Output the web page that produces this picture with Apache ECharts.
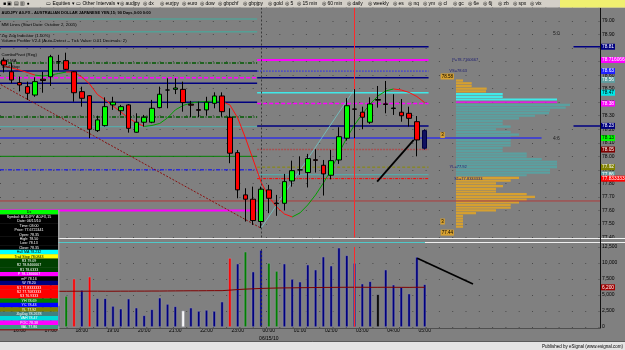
<!DOCTYPE html>
<html><head><meta charset="utf-8">
<script src="https://cdn.jsdelivr.net/npm/echarts@6/dist/echarts.min.js"></script>
<style>html,body{margin:0;padding:0;background:#808080;overflow:hidden}#c{width:625px;height:350px}</style>
</head><body><div id="c"></div><script>
// ---------------- DATA ----------------
const times = ['15:30','15:45','16:00','16:15','16:30','16:45','17:00','17:15','17:30','17:45','18:00','18:15','18:30','18:45','19:00','19:15','19:30','19:45','20:00','20:15','20:30','20:45','21:00','21:15','21:30','21:45','22:00','22:15','22:30','22:45','23:00','23:15','23:30','23:45','00:00','00:15','00:30','00:45','01:00','01:15','01:30','01:45','02:00','02:15','02:30','02:45','03:00','03:15','03:30','03:45','04:00','04:15','04:30','04:45','05:00'];
const futureSlots = ['+1','+2','+3','+4','+5','+6','+7','+8','+9','+10','+11','+12','+13','+14','+15','+16','+17','+18','+19','+20','+21','+22'];
const opens  = [78.71,78.625,78.545,78.515,78.453,78.57,78.588,78.70,78.707,78.625,78.478,78.448,78.19,78.227,78.38,78.337,78.38,78.178,78.252,78.252,78.36,78.49,78.495,78.495,78.385,78.345,78.343,78.392,78.446,78.289,78.027,77.715,77.683,77.518,77.752,77.655,77.653,77.818,77.90,77.88,77.975,77.934,77.86,77.973,78.134,78.35,78.326,78.252,78.42,78.388,78.353,78.326,78.318,78.256,78.19];
const closes = [78.675,78.564,78.527,78.466,78.552,78.56,78.736,78.70,78.643,78.47,78.429,78.20,78.269,78.367,78.40,78.367,78.207,78.252,78.289,78.355,78.459,78.49,78.505,78.397,78.378,78.34,78.40,78.446,78.33,78.023,77.752,77.683,77.525,77.757,77.69,77.65,77.813,77.894,77.90,77.983,77.97,77.87,77.968,78.145,78.374,78.348,78.289,78.387,78.415,78.383,78.357,78.30,78.281,78.121,78.06];
const lows   = [78.62,78.54,78.48,78.417,78.44,78.47,78.52,78.633,78.638,78.404,78.367,78.134,78.18,78.22,78.343,78.306,78.175,78.175,78.22,78.245,78.355,78.355,78.46,78.33,78.29,78.29,78.30,78.355,78.293,77.949,77.69,77.518,77.493,77.469,77.58,77.56,77.60,77.776,77.863,77.77,77.88,77.71,77.83,77.944,78.116,78.134,78.20,78.24,78.36,78.318,78.306,78.256,78.22,78.0,78.05];
const highs  = [78.73,78.69,78.59,78.552,78.584,78.625,78.75,78.75,78.766,78.63,78.515,78.453,78.30,78.436,78.44,78.38,78.385,78.318,78.306,78.417,78.515,78.577,78.577,78.552,78.41,78.404,78.44,78.473,78.473,78.355,78.047,77.764,77.776,77.776,77.789,77.715,77.87,77.968,78.0,78.018,78.052,77.973,78.047,78.215,78.43,78.496,78.367,78.436,78.52,78.557,78.459,78.424,78.367,78.298,78.20];
const hullMA = [78.668,78.653,78.638,78.62,78.60,78.594,78.601,78.612,78.623,78.623,78.586,78.535,78.457,78.417,78.372,78.328,78.284,78.247,78.221,78.228,78.243,78.284,78.343,78.376,78.394,78.402,78.405,78.409,78.405,78.38,78.284,78.136,77.973,77.81,77.70,77.626,77.574,77.552,77.582,77.641,77.715,77.803,77.90,78.025,78.136,78.232,78.313,78.387,78.446,78.483,78.498,78.49,78.472,78.442,78.397];
const hullSegDir = 'rrrrggggrrrrrrrrrrggggggggggrrrrrrrrrgggggggggggggrrrr';
const volumes = [4200,3600,5100,2900,3800,4600,6900,3400,4840,7550,5780,7860,4480,4480,3280,2860,4430,3020,1820,2760,4580,3590,3230,2550,3020,2500,2660,2500,3960,10780,9900,11770,8650,12030,10000,8750,9900,7500,7080,9740,8960,10990,9580,12390,11200,10000,6770,7140,5110,8960,6610,6250,5210,10940,6670];
const volumeKind = 'nnnnnnnngrnrnnnnnnnnnnnwnnnnnrngnnggnnnnnnnnnnnnknnnnnn';
const volumeMA = [5540,5550,5560,5560,5570,5570,5580,5580,5580,5590,5590,5600,5600,5590,5590,5600,5600,5610,5610,5620,5620,5630,5640,5650,5660,5660,5670,5680,5680,5760,5850,5920,5970,6030,6060,6090,6110,6120,6140,6150,6170,6180,6190,6200,6210,6210,6210,6200,6200,6210,6200,6200,6190,6210,6200];
// volume profile (price ladder, volume at price, zone)
const profilePrice = [78.56,78.54,78.52,78.50,78.48,78.46,78.44,78.42,78.40,78.38,78.36,78.34,78.32,78.30,78.28,78.26,78.24,78.22,78.20,78.18,78.16,78.14,78.12,78.10,78.08,78.06,78.04,78.02,78.00,77.98,77.96,77.94,77.92,77.90,77.88,77.86,77.84,77.82,77.80,77.78,77.76,77.74,77.72,77.70,77.68,77.66,77.64,77.62,77.60,77.58,77.56,77.54,77.52,77.50,77.48];
const profileVol = [70,157,157,307,300,467,467,1010,1010,1140,1097,940,930,790,630,467,467,547,400,547,630,547,547,547,547,467,467,707,707,857,1010,1010,1010,940,940,707,630,547,400,470,400,400,707,790,707,630,547,547,400,200,70,70,70,70,70];
const profileZone = 'ooooocccPtttttttttttttttttttttttttttooooooooooooooooooo';
// pivot / level lines
const day1Start = -0.5, day1End = 32.5, day2End = 54.5;
const day1Levels = [79.015,78.92,78.69,78.63,78.58,78.54,78.40,78.29,78.22,78.00,77.90,77.60];
const day1Kinds  = ['tealThin','tealThin','dgreenDD','navy','magDash','navy','navy','dgreenDD','teal','green','blueDD','magenta'];
const day2Levels = [78.712,78.63,78.58,78.47,78.39,78.225,78.05,77.92,77.865,77.835];
const day2Kinds  = ['magenta','blueDot','navy','cyan','magDash','navy','brownDot','oliveDash','teal','redDD'];
const wideLevels = [78.81,78.135,77.67];
const wideEnds   = [54.5,69,76.5];
const wideKinds  = ['navy','purple','brown'];
const stubLevels = [78.81,78.225];
// zig zag and drawn trend lines
const zigzag1 = [[-0.4,78.53],[33,77.469]];
const zigzag2 = [[33,77.469],[45,78.496]];
const trendPrice = [[47.9,77.813],[52.6,78.121]];
const trendVolume = [[53.05,10734],[60.2,6719]];
// right axis tags
const tagPrices = [78.81,78.712,78.63,78.565,78.47,78.39,78.225,78.135,78.05,77.92,77.865,77.835];
const tagTexts  = ['78.81','78.7160667','78.63','78.56','78.47','78.38','78.23','78.13','78.05','77.92','77.86','77.8333333'];
const tagColors = ['#000080','#ff00ff','#2020ff','#5f9ea0','#00e8e8','#ff00ff','#000080','#00ff00','#800000','#808000','#5f9ea0','#ff0000'];
const sessionBreak = '23:45', cursorBar = '02:45';
const dataWindow = [
 ['Dx','#00ff00','#000'],['Symbol: AUDJPY A0-FX,15','#000','#fff'],['Date: 06/15/10','#000','#fff'],['Time: 03:00','#000','#fff'],
 ['Price: 77.6722441','#000','#fff'],['Open: 78.35','#000','#fff'],['High: 78.50','#000','#fff'],['Low: 78.13','#000','#fff'],['Close: 78.35','#000','#fff'],
 ['Hull MA 78.232','#00ffff','#000'],['Trail Stop 78.0843','#ffff00','#000'],
 ['R3 79.09','#004000','#fff'],['R2 78.8466667','#004000','#fff'],['R1 78.6333','#004000','#fff'],
 ['P 78.1366667','#ff00ff','#fff'],['mP 78.16','#000','#fff'],['W 78.20','#000080','#fff'],
 ['S1 77.8333333','#ff0000','#fff'],['S2 77.7083333','#ff0000','#fff'],['S3 76.9333','#ff0000','#fff'],
 ['YH 78.69','#008000','#fff'],['YC 78.43','#0000ff','#fff'],['YL 77.92','#808000','#fff'],
 ['ZigZag 78.2678','#408080','#fff'],['VAH 78.47','#00d8d8','#fff'],['POC 78.38','#ff00ff','#fff'],['VAL 77.86','#3c9c80','#fff']
];

// ---------------- STYLES ----------------
const FONT = '"Liberation Sans", Arial, sans-serif';
const lineKinds = {
  tealThin:{color:'#3fb0a0',width:1,type:'solid'},
  teal:{color:'#5aa8a8',width:1.2,type:'solid'},
  navy:{color:'#000080',width:1.5,type:'solid'},
  magDash:{color:'#ff00ff',width:1.5,type:[4,2]},
  magenta:{color:'#ff00ff',width:2,type:'solid'},
  dgreenDD:{color:'#005a00',width:1.5,type:[4,1.5,1,1.5]},
  green:{color:'#008000',width:1,type:'solid'},
  blueDD:{color:'#0000ff',width:1,type:[4,1.5,1,1.5]},
  blueDot:{color:'#2020ff',width:1,type:[1.5,1.5]},
  brown:{color:'#b03a3a',width:1,type:'solid'},
  brownDot:{color:'#a85050',width:1.5,type:[2,1]},
  oliveDash:{color:'#8a8a00',width:1,type:[3,2]},
  redDD:{color:'#ff0000',width:1,type:[3,1,1,1]},
  cyan:{color:'#40e8e8',width:1.5,type:'solid'},
  purple:{color:'#4646c8',width:2,type:'solid'}
};
const volColors = {n:'#000080',r:'#ff0000',g:'#008000',w:'#ffffff',k:'#000000'};
const zoneColors = {o:'#d6a030',c:'#40e8e8',P:'#ff00ff',t:'#5aa0a0'};

// ---------------- BUILD ----------------
const cats = times.concat(futureSlots);
const candleData = times.map((t,i)=>{
  const v=[opens[i],closes[i],lows[i],highs[i]];
  if(i===times.length-1) return {value:v,itemStyle:{color:'#101060',color0:'#101060',borderColor:'#000040',borderColor0:'#000040'}};
  return v;
});
const hullUp = hullMA.map((v,i)=> (hullSegDir[i]==='g'||hullSegDir[i-1]==='g')?v:null);
const hullDn = hullMA.map((v,i)=> (hullSegDir[i]==='r'||hullSegDir[i-1]==='r')?v:null);

function seg(pts, style, xi, yi, z){
  return {type:'line',xAxisIndex:xi,yAxisIndex:yi,data:pts,showSymbol:false,silent:true,z:z||2,
    lineStyle:Object.assign({},style),animation:false};
}
const levelSeries = [];
day1Levels.forEach((p,k)=>levelSeries.push(seg([[day1Start,p],[day1End,p]],lineKinds[day1Kinds[k]],2,0)));
day2Levels.forEach((p,k)=>levelSeries.push(seg([[day1End,p],[day2End,p]],lineKinds[day2Kinds[k]],2,0)));
wideLevels.forEach((p,k)=>levelSeries.push(seg([[day1Start,p],[wideEnds[k],p]],lineKinds[wideKinds[k]],2,0,3)));
stubLevels.forEach(p=>levelSeries.push(seg([[73.1,p],[76.5,p]],lineKinds.navy,2,0)));
levelSeries.push(seg(zigzag1,{color:'#8a1010',width:1,type:[2,1.5]},2,0,3));
levelSeries.push(seg(zigzag2,{color:'#70c8c8',width:0.8,type:'solid'},2,0,3));
levelSeries.push(seg(trendPrice,{color:'#000',width:1.8,type:'solid'},2,0,5));
levelSeries.push(seg(trendVolume,{color:'#000',width:1.8,type:'solid'},3,1,5));

function txt(x,p,t,color,size,bg){
  return {coord:[x,p],symbol:'rect',symbolSize:1,itemStyle:{color:'rgba(0,0,0,0)'},
    label:{show:true,position:'inside',formatter:t,color:color,fontSize:size||4.5,fontFamily:FONT,
      backgroundColor:bg||'transparent',padding:bg?[1,1,0,1]:0}};
}
levelSeries[0].markPoint = {silent:true,animation:false,data:[
  txt(70.9,78.904,'5:0','#202020',5),
  txt(70.9,78.128,'4:6','#202020',5),
  txt(59.2,78.712,'P=78.7160667','#1a1a70',4),
  txt(58.3,78.63,'VS=78.63','#1a1a70',4),
  txt(58.3,77.92,'YL=77.92','#1a1a70',4),
  txt(59.6,77.835,'S1=77.8333333','#1a1a70',4),
  txt(56.9,78.59,'78.58','#000',4.5,'#d6a030'),
  txt(56.9,77.436,'77.44','#000',4.5,'#d6a030'),
  txt(56.3,78.158,'3','#000',4.5,'#d6a030'),
  txt(56.3,77.518,'3','#000',4.5,'#d6a030')
]};

const tagLines = tagPrices.map((p,k)=>({yAxis:p,lineStyle:{color:'rgba(0,0,0,0)'},
  label:{show:true,position:'end',distance:1,formatter:tagTexts[k],fontSize:4.8,fontFamily:FONT,
    color:(tagColors[k]==='#00ff00'||tagColors[k]==='#00e8e8')?'#000':'#fff',backgroundColor:tagColors[k],padding:[1,1,0,1]}}));

const option = {
  animation:false,
  backgroundColor:'#808080',
  textStyle:{fontFamily:FONT},
  grid:[
    {left:-1,top:7.5,width:601,height:230},
    {left:-1,top:247,width:601,height:80},
    {left:456,top:7.5,width:120,height:230}
  ],
  xAxis:[
    {type:'category',gridIndex:0,data:cats,boundaryGap:true,axisLine:{show:false},axisTick:{show:false},axisLabel:{show:false},splitLine:{show:false}},
    {type:'category',gridIndex:1,data:cats,boundaryGap:true,axisLine:{show:false},axisTick:{show:false},splitLine:{show:false},
      axisLabel:{show:true,interval:(i,v)=>/:00$/.test(v),margin:0,fontSize:5,lineHeight:8,color:'#000',fontFamily:FONT,
        formatter:v=> v==='00:00' ? '00:00\n06/15/10' : v}},
    {type:'value',gridIndex:0,min:-0.5,max:76.5,show:false},
    {type:'value',gridIndex:1,min:-0.5,max:76.5,show:false},
    {type:'value',gridIndex:2,min:0,max:1200,show:false}
  ],
  yAxis:[
    {type:'value',gridIndex:0,position:'right',min:77.4,max:79.1,interval:0.1,
      axisLine:{show:false},axisTick:{show:false},
      axisLabel:{margin:2,fontSize:5,color:'#000',fontFamily:FONT,formatter:v=> v>79.05?'':v.toFixed(2)},
      splitLine:{show:true,lineStyle:{color:'#4a4a4a',width:1,type:[1,12.3]}}},
    {type:'value',gridIndex:1,position:'right',min:0,max:12500,interval:2500,
      axisLine:{show:false},axisTick:{show:false},
      axisLabel:{margin:2,fontSize:5,color:'#000',fontFamily:FONT,formatter:v=>v.toLocaleString('en-US')},
      splitLine:{show:true,lineStyle:{color:'#4a4a4a',width:1,type:[1,12.3]}}},
    {type:'value',gridIndex:2,min:77.4,max:79.1,show:false}
  ],
  series:[
    {type:'custom',name:'Volume Profile',xAxisIndex:4,yAxisIndex:2,z:1,silent:true,
      data:profileVol.map((v,k)=>[v,profilePrice[k]]),
      renderItem:(params,api)=>{
        const p=api.value(1), v=api.value(0);
        const a=api.coord([0,p]), b=api.coord([v,p]);
        const h=api.size([0,0.02])[1];
        const zone=profileZone[params.dataIndex];
        const hh = zone==='P'?1.2:h*0.82;
        return {type:'rect',shape:{x:a[0],y:a[1]-hh/2,width:b[0]-a[0],height:hh},style:{fill:zoneColors[zone]}};
      }},
    ...levelSeries,
    {type:'line',name:'Hull MA up',xAxisIndex:0,yAxisIndex:0,data:hullUp,showSymbol:false,connectNulls:false,z:4,silent:true,
      lineStyle:{color:'#00a000',width:1}},
    {type:'line',name:'Hull MA dn',xAxisIndex:0,yAxisIndex:0,data:hullDn,showSymbol:false,connectNulls:false,z:4,silent:true,
      lineStyle:{color:'#ff1010',width:1}},
    {type:'candlestick',name:'AUDJPY',xAxisIndex:0,yAxisIndex:0,data:candleData,barWidth:5,z:5,silent:true,
      itemStyle:{color:'#00ff00',color0:'#ff0000',borderColor:'#000',borderColor0:'#000',borderWidth:1},
      markLine:{silent:true,symbol:['none','none'],animation:false,precision:4,data:[
        {xAxis:sessionBreak,lineStyle:{color:'#3a3a3a',width:1,type:[2,2]},label:{show:false}},
        {xAxis:cursorBar,lineStyle:{color:'#ff2a2a',width:1,type:'solid'},label:{show:false}},
        ...tagLines
      ]}},
    {type:'bar',name:'Volume',xAxisIndex:1,yAxisIndex:1,barWidth:3,z:3,silent:true,
      data:volumes.map((v,i)=>({value:v,itemStyle:{color:volColors[volumeKind[i]],borderColor:'#9a9aa8',borderWidth:0.5}})),
      markLine:{silent:true,symbol:['none','none'],animation:false,data:[
        {xAxis:sessionBreak,lineStyle:{color:'#3a3a3a',width:1,type:[2,2]},label:{show:false}},
        {xAxis:cursorBar,lineStyle:{color:'#ff2a2a',width:1,type:'solid'},label:{show:false}},
        {yAxis:volumeMA[volumeMA.length-1],lineStyle:{color:'rgba(0,0,0,0)'},
          label:{show:true,position:'end',distance:1,formatter:'6,200',fontSize:4.8,color:'#fff',backgroundColor:'#a00000',padding:[1,1,0,1]}}
      ]}},
    {type:'line',name:'Volume MA',xAxisIndex:1,yAxisIndex:1,data:volumeMA,showSymbol:false,z:4,silent:true,
      lineStyle:{color:'#800000',width:1}}
  ],
  graphic:[]
};

// decorations
const g = [];
g.push({type:'rect',shape:{x:0,y:0,width:625,height:7.5},style:{fill:'#d4d0c8'},z:100});
g.push({type:'rect',shape:{x:560,y:0,width:65,height:7.5},style:{fill:'#f0f070'},z:100});
const tb = [['■ ▣ ▤ ▥ ●',3],['▭ Equities ▾',46],['▭ Other Intervals ▾',76],['◎ audjpy',120],['◎ dx',143],['◎ eurjpy',160],['◎ euro',182],['◎ dow',200],['◎ gbpchf',218],['◎ gbpjpy',243],['◎ gold',268],['◎ 5',285],['◎ 15 min',297],['◎ 60 min',322],['◎ daily',347],['◎ weekly',368],['◎ es',393],['◎ nq',408],['◎ ym',423],['◎ cl',438],['◎ gc',453],['◎ 6e',468],['◎ 6j',483],['◎ zb',498],['◎ spx',513],['◎ vix',530]];
tb.forEach(t=>g.push({type:'text',x:t[1],y:4,z:101,style:{text:t[0],fontSize:5,fontFamily:FONT,fill:'#000',verticalAlign:'middle'}}));
g.push({type:'text',x:1.5,y:13,z:60,style:{text:'AUDJPY A0-FX - AUSTRALIAN DOLLAR JAPANESE YEN,15; 90 Days,0:00 0:00',fontSize:4,fontWeight:'bold',fontFamily:FONT,fill:'#000',verticalAlign:'middle'}});
const names=[['MM Lines (Start Date: October 2, 2005)',25],['Zig Zag Indicator (1.00%)',35.7],['Volume Profiler V2.4 (Auto-Detect -- Tick Value: 0.01 Decimals: 2)',41],['ComboPivot (Reg)',55],['Hull MA',60.7],['Trail Stop',66.6]];
names.forEach(n=>g.push({type:'text',x:1.5,y:n[1],z:60,style:{text:n[0],fontSize:4.3,fontFamily:FONT,fill:'#000',verticalAlign:'middle'}}));
g.push({type:'line',shape:{x1:0,y1:238.5,x2:625,y2:238.5},style:{stroke:'#f0f0f0',lineWidth:1},z:50});
g.push({type:'line',shape:{x1:0,y1:242.5,x2:425,y2:242.5},style:{stroke:'#50c8c8',lineWidth:1},z:50});
g.push({type:'line',shape:{x1:425,y1:242.5,x2:625,y2:242.5},style:{stroke:'#f0f0f0',lineWidth:1},z:50});
g.push({type:'line',shape:{x1:600.5,y1:7.5,x2:600.5,y2:329},style:{stroke:'#101010',lineWidth:1},z:50});
g.push({type:'line',shape:{x1:0,y1:328.5,x2:601,y2:328.5},style:{stroke:'#505050',lineWidth:1},z:50});
const rowH = 4.42, dwTop = 210;
dataWindow.forEach((r,k)=>{
  g.push({type:'rect',shape:{x:0,y:dwTop+k*rowH,width:58,height:rowH+0.2},style:{fill:r[1]},z:70});
  g.push({type:'text',x:29,y:dwTop+k*rowH+rowH/2+0.2,z:71,style:{text:r[0],fontSize:3.6,fontFamily:FONT,fill:r[2],align:'center',verticalAlign:'middle'}});
});
g.push({type:'line',shape:{x1:0,y1:dwTop+dataWindow.length*rowH+0.5,x2:58,y2:dwTop+dataWindow.length*rowH+0.5},style:{stroke:'#800000',lineWidth:1},z:71});
g.push({type:'line',shape:{x1:58.8,y1:210,x2:58.8,y2:330},style:{stroke:'#b0b0b0',lineWidth:1},z:71});
g.push({type:'rect',shape:{x:0,y:342,width:625,height:8},style:{fill:'#e4e4e4'},z:80});
g.push({type:'line',shape:{x1:0,y1:341.5,x2:625,y2:341.5},style:{stroke:'#5a5a5a',lineWidth:1},z:80});
g.push({type:'text',x:623,y:346.3,z:81,style:{text:'Published by eSignal (www.esignal.com)',fontSize:4.5,fontFamily:FONT,fill:'#000',align:'right',verticalAlign:'middle'}});
option.graphic = g;

const chart = echarts.init(document.getElementById('c'),null,{renderer:'canvas',width:625,height:350});
chart.setOption(option);
</script></body></html>
